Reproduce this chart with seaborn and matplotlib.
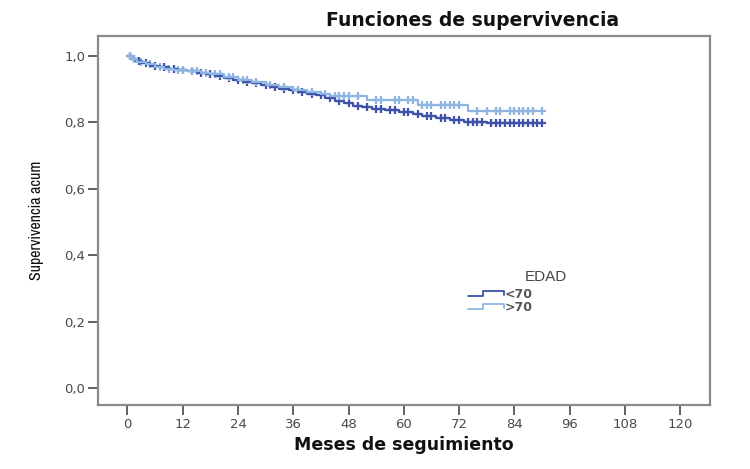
import numpy as np
import pandas as pd
import matplotlib
matplotlib.use("Agg")
import matplotlib.pyplot as plt
import seaborn as sns
from matplotlib import font_manager

# ---- data ----
lt70_times = [0, 1, 2, 3, 5, 7, 9, 11, 13, 15, 17, 19, 21, 23, 25, 27, 29, 31, 33, 35,
              37, 39, 41, 43, 45, 47, 49, 51, 53, 56, 59, 62, 64, 67, 70, 73, 78, 90]
lt70_surv = [1.0, 0.990, 0.984, 0.978, 0.971, 0.966, 0.961, 0.957, 0.954, 0.950, 0.945,
             0.940, 0.934, 0.929, 0.923, 0.917, 0.912, 0.907, 0.901, 0.896, 0.891, 0.886,
             0.881, 0.874, 0.865, 0.857, 0.850, 0.845, 0.840, 0.836, 0.831, 0.825, 0.820,
             0.814, 0.807, 0.801, 0.798, 0.798]
gt70_times = [0, 1, 2, 4, 6, 8, 10, 13, 16, 18, 21, 24, 27, 30, 33, 36, 39, 42, 44, 52,
              63, 74, 90]
gt70_surv = [1.0, 0.990, 0.982, 0.975, 0.968, 0.962, 0.958, 0.954, 0.949, 0.946, 0.938,
             0.929, 0.920, 0.913, 0.905, 0.898, 0.891, 0.884, 0.878, 0.866, 0.852, 0.833,
             0.833]
lt70_censor = [0.5, 1.5, 2.5, 4, 6, 8, 10, 12, 14, 16, 18, 20, 22, 24, 26, 28, 30, 32,
               34, 36, 38, 40, 42, 44, 46, 48, 50, 52, 54, 55, 57, 58, 60, 61, 63, 65,
               66, 68, 69, 71, 72, 74, 75, 76, 77, 79, 80, 81, 82, 83, 84, 85, 86, 87,
               88, 89, 90]
gt70_censor = [0.5, 1.5, 3, 5, 7, 9, 11, 12, 14, 15, 17, 19, 20, 22, 23, 25, 26, 28, 31,
               34, 37, 40, 43, 45, 46, 47, 48, 50, 54, 55, 58, 59, 61, 62, 64, 65, 66,
               68, 69, 70, 71, 72, 76, 78, 80, 81, 83, 84, 85, 86, 87, 88, 90]
group_labels = ["<70", ">70"]
group_colors = ["#3d52a8", "#8fb6e2"]
x_ticks = [0, 12, 24, 36, 48, 60, 72, 84, 96, 108, 120]
y_ticks = [0.0, 0.2, 0.4, 0.6, 0.8, 1.0]

sns.set_theme(style="white")
plt.rcParams["font.family"] = ["DejaVu Sans"]

fig = plt.figure(figsize=(7.5, 4.69), dpi=100)
ax = fig.add_axes([98 / 750, 1 - 405 / 469, (710 - 98) / 750, (405 - 36) / 469])

def surv_at(times, surv, t):
    idx = np.searchsorted(times, t, side="right") - 1
    return np.asarray(surv)[idx]

groups = [(lt70_times, lt70_surv, lt70_censor), (gt70_times, gt70_surv, gt70_censor)]
for (tt, ss, cc), lab, col in zip(groups, group_labels, group_colors):
    df = pd.DataFrame({"t": tt, "s": ss})
    sns.lineplot(data=df, x="t", y="s", ax=ax, color=col, lw=1.6,
                 drawstyle="steps-post", legend=False, estimator=None)
    cdf = pd.DataFrame({"t": cc, "s": surv_at(tt, ss, cc)})
    sns.scatterplot(data=cdf, x="t", y="s", ax=ax, color=col, marker="+", s=40,
                    linewidth=1.6, legend=False)

ax.set_xlim(-6.4, 126.5)
ax.set_ylim(-0.051, 1.06)
ax.set_xticks(x_ticks)
ax.set_yticks(y_ticks)
ax.set_yticklabels([f"{v:.1f}".replace(".", ",") for v in y_ticks])
ax.tick_params(axis="both", direction="out", length=7, width=1.3, color="#555555",
               labelsize=9.5, labelcolor="#4a4a4a", bottom=True, left=True, pad=2)
for sp in ax.spines.values():
    sp.set_color("#8a8a8a")
    sp.set_linewidth(1.6)

ax.set_xlabel("Meses de seguimiento", fontsize=12.5, fontweight="bold", labelpad=4,
              color="#111111")
narrow = [f.name for f in font_manager.fontManager.ttflist if "Narrow" in f.name]
yfam = [narrow[0], "DejaVu Sans"] if narrow else ["Liberation Sans", "DejaVu Sans"]
ax.set_ylabel("Supervivencia acum", fontsize=11.5, fontweight="bold", family=yfam,
              labelpad=15, color="#111111")
fig.text(473 / 750, 1 - 20 / 469, "Funciones de supervivencia", ha="center",
         va="center", fontsize=13.5, fontweight="bold", color="#111111")

# legend (manual, step-shaped keys)
tr = ax.transAxes
def axpos(px, py):
    return ((px - 98) / (710 - 98), (405 - py) / (405 - 36))
ax.text(*axpos(546, 277), "EDAD", transform=tr, ha="center", va="center",
        fontsize=11, color="#444444", family=["Liberation Sans", "DejaVu Sans"])
for i, (lab, col) in enumerate(zip(group_labels, group_colors)):
    y0 = 296 + 13 * i
    pts = [axpos(468, y0), axpos(483, y0), axpos(483, y0 - 5), axpos(504, y0 - 5),
           axpos(504, y0 - 1)]
    ax.plot([p[0] for p in pts], [p[1] for p in pts], transform=tr, color=col, lw=1.3)
    ax.text(*axpos(505, y0 - 2), lab, transform=tr, ha="left", va="center",
            fontsize=9, fontweight="bold", color="#555555")

fig.savefig("out.png", dpi=100)
